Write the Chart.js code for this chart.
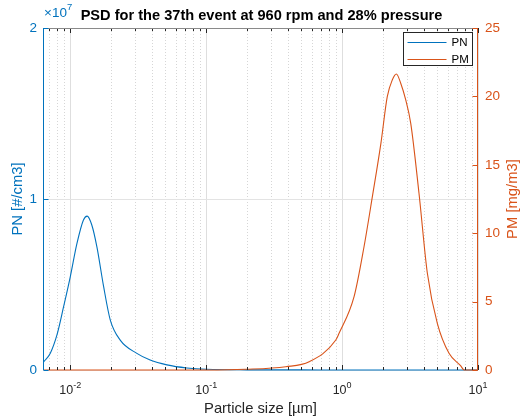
<!DOCTYPE html>
<html><head><meta charset="utf-8">
<script src="https://cdn.jsdelivr.net/npm/chart.js@4/dist/chart.umd.min.js"></script>
<style>html,body{margin:0;padding:0;background:#fff}#wrap{width:521px;height:416px}</style>
</head><body><div id="wrap"><canvas id="c" width="521" height="416"></canvas></div>
<script>
const titleText = 'PSD for the 37th event at 960 rpm and 28% pressure';
const xLabel = 'Particle size [µm]';
const yLeftLabel = 'PN [#/cm3]';
const yRightLabel = 'PM [mg/m3]';
const seriesNames = ['PN', 'PM'];

// PN: particle number concentration [#/cm3]
const pnSize = [0.00637, 0.00713, 0.00798, 0.00893, 0.0100, 0.0112, 0.0125, 0.0133, 0.0144, 0.0157, 0.0176, 0.0197, 0.0233, 0.0309, 0.0387, 0.0514, 0.0721, 0.101, 0.2, 0.5, 1, 3, 10];
const pnValues = [0.048e7, 0.098e7, 0.205e7, 0.37e7, 0.545e7, 0.74e7, 0.877e7, 0.90e7, 0.848e7, 0.72e7, 0.487e7, 0.292e7, 0.175e7, 0.097e7, 0.058e7, 0.03e7, 0.012e7, 0.004e7, 0.001e7, 0.0005e7, 0.0003e7, 0.0001e7, 0];

// PM: particle mass concentration [mg/m3]
const pmSize = [0.0064, 0.0995, 0.196, 0.385, 0.572, 0.899, 0.95, 1.225, 1.45, 1.67, 1.93, 2.15, 2.34, 2.51, 2.70, 2.94, 3.20, 3.68, 4.24, 5.02, 6.12, 7.47, 7.9, 10];
const pmValues = [0, 0, 0.05, 0.24, 0.6, 2.19, 2.68, 5.36, 9.01, 12.67, 16.57, 19.98, 21.2, 21.64, 20.96, 19.74, 18.03, 12.92, 7.07, 3.41, 1.22, 0.3, 0, 0];

const xDecades = [0.01, 0.1, 1, 10];
const xDecadeExp = ['-2', '-1', '0', '1'];
const yLeftTicks = [0, 1e7, 2e7];
const yLeftTickLabels = ['0', '1', '2'];
const yLeftExponent = '7';
const yRightTicks = [0, 5, 10, 15, 20, 25];

const BLUE = '#0072BD';
const ORANGE = '#D95319';
const AXIS = '#262626';
const FONT = "'Liberation Sans', Arial, Helvetica, sans-serif";

const deco = {
  id: 'deco',
  beforeDatasetsDraw(chart) {
    const {ctx, chartArea: a, scales} = chart;
    const xs = scales.x, yl = scales.y;
    ctx.save();
    for (let e = -3; e <= 1; e++) {
      for (let m = 1; m <= 9; m++) {
        const v = m * Math.pow(10, e);
        if (v < xs.min || v > xs.max) continue;
        const px = Math.round(xs.getPixelForValue(v)) + 0.5;
        ctx.beginPath();
        if (m === 1) { ctx.setLineDash([]); ctx.strokeStyle = '#dedede'; }
        else { ctx.setLineDash([1, 2]); ctx.strokeStyle = '#d6d6d6'; }
        ctx.lineWidth = 1;
        ctx.moveTo(px, a.top); ctx.lineTo(px, a.bottom); ctx.stroke();
      }
    }
    ctx.setLineDash([]);
    ctx.strokeStyle = '#e3e3e3';
    yLeftTicks.forEach(v => {
      const py = Math.round(yl.getPixelForValue(v)) + 0.5;
      ctx.beginPath(); ctx.moveTo(a.left, py); ctx.lineTo(a.right, py); ctx.stroke();
    });
    ctx.restore();
  },
  afterDatasetsDraw(chart) {
    const {ctx, chartArea: a, scales} = chart;
    const xs = scales.x, yl = scales.y, yr = scales.y1;
    ctx.save();
    ctx.lineWidth = 1;
    ctx.strokeStyle = AXIS;
    for (let e = -3; e <= 1; e++) {
      for (let m = 1; m <= 9; m++) {
        const v = m * Math.pow(10, e);
        if (v < xs.min || v > xs.max) continue;
        const px = Math.round(xs.getPixelForValue(v)) + 0.5;
        const len = m === 1 ? 5 : 3;
        ctx.beginPath();
        ctx.moveTo(px, a.bottom); ctx.lineTo(px, a.bottom - len);
        ctx.moveTo(px, a.top); ctx.lineTo(px, a.top + len);
        ctx.stroke();
      }
    }
    ctx.strokeStyle = '#8a8a8a';
    ctx.beginPath(); ctx.moveTo(a.left, a.top + 0.5); ctx.lineTo(a.right, a.top + 0.5); ctx.stroke();
    ctx.strokeStyle = BLUE;
    const lx = Math.round(a.left) + 0.5;
    ctx.beginPath(); ctx.moveTo(lx, a.top); ctx.lineTo(lx, a.bottom); ctx.stroke();
    yLeftTicks.forEach(v => {
      const py = Math.round(yl.getPixelForValue(v)) + 0.5;
      ctx.beginPath(); ctx.moveTo(lx, py); ctx.lineTo(lx + 5, py); ctx.stroke();
    });
    ctx.strokeStyle = ORANGE;
    const rx = Math.round(a.right) - 0.5;
    ctx.beginPath(); ctx.moveTo(rx, a.top); ctx.lineTo(rx, a.bottom); ctx.stroke();
    yRightTicks.forEach(v => {
      const py = Math.round(yr.getPixelForValue(v)) + 0.5;
      ctx.beginPath(); ctx.moveTo(rx, py); ctx.lineTo(rx - 5, py); ctx.stroke();
    });
    const lw = 69, lh = 33;
    const bx = Math.round(a.right - 6 - lw) + 0.5, by = Math.round(a.top + 4) + 0.5;
    ctx.fillStyle = '#fff';
    ctx.fillRect(bx, by, lw, lh);
    ctx.strokeStyle = AXIS;
    ctx.strokeRect(bx, by, lw, lh);
    [BLUE, ORANGE].forEach((c, i) => {
      const ly = by + 10 + i * 17;
      ctx.strokeStyle = c;
      ctx.beginPath(); ctx.moveTo(bx + 4, ly); ctx.lineTo(bx + 43, ly); ctx.stroke();
      ctx.fillStyle = '#000';
      ctx.font = '11.5px ' + FONT;
      ctx.textAlign = 'left'; ctx.textBaseline = 'middle';
      ctx.fillText(seriesNames[i], bx + 48, ly + 0.5);
    });
    ctx.restore();
  },
  afterDraw(chart) {
    const {ctx, chartArea: a, scales} = chart;
    const xs = scales.x;
    ctx.save();
    ctx.fillStyle = '#000';
    ctx.font = 'bold 14.6px ' + FONT;
    ctx.textAlign = 'center'; ctx.textBaseline = 'alphabetic';
    ctx.fillText(titleText, (a.left + a.right) / 2 + 1, 20);
    ctx.fillStyle = AXIS;
    xDecades.forEach((v, i) => {
      const px = xs.getPixelForValue(v);
      ctx.font = '12.5px ' + FONT;
      const w1 = ctx.measureText('10').width;
      ctx.font = '9px ' + FONT;
      const w2 = ctx.measureText(xDecadeExp[i]).width;
      const x0 = px - (w1 + w2) / 2;
      ctx.textAlign = 'left'; ctx.textBaseline = 'alphabetic';
      ctx.font = '12.5px ' + FONT;
      ctx.fillText('10', x0, a.bottom + 24);
      ctx.font = '9px ' + FONT;
      ctx.fillText(xDecadeExp[i], x0 + w1, a.bottom + 18);
    });
    ctx.font = '14.8px ' + FONT;
    ctx.textAlign = 'center';
    ctx.fillText(xLabel, (a.left + a.right) / 2, a.bottom + 43);
    ctx.fillStyle = BLUE;
    ctx.textAlign = 'left';
    ctx.font = '13.5px ' + FONT;
    const wx = ctx.measureText('×10').width;
    ctx.fillText('×10', a.left + 1, a.top - 11);
    ctx.font = '9.5px ' + FONT;
    ctx.fillText(yLeftExponent, a.left + 1 + wx, a.top - 18);
    ctx.font = '14.8px ' + FONT;
    ctx.textAlign = 'center'; ctx.textBaseline = 'middle';
    ctx.save();
    ctx.translate(18, (a.top + a.bottom) / 2);
    ctx.rotate(-Math.PI / 2);
    ctx.fillStyle = BLUE;
    ctx.fillText(yLeftLabel, 0, 0);
    ctx.restore();
    ctx.save();
    ctx.translate(513, (a.top + a.bottom) / 2);
    ctx.rotate(-Math.PI / 2);
    ctx.fillStyle = ORANGE;
    ctx.fillText(yRightLabel, 0, 0);
    ctx.restore();
    ctx.restore();
  }
};

new Chart(document.getElementById('c'), {
  type: 'line',
  data: {
    datasets: [
      {label: seriesNames[0], data: pnSize.map((x, i) => ({x, y: pnValues[i]})), borderColor: BLUE, borderWidth: 1.1, pointRadius: 0, fill: false, yAxisID: 'y', cubicInterpolationMode: 'monotone', clip: 3, order: 2},
      {label: seriesNames[1], data: pmSize.map((x, i) => ({x, y: pmValues[i]})), borderColor: ORANGE, borderWidth: 1.1, pointRadius: 0, fill: false, yAxisID: 'y1', cubicInterpolationMode: 'monotone', clip: 3, order: 1}
    ]
  },
  options: {
    responsive: false, animation: false, devicePixelRatio: 1,
    layout: {padding: {top: 28, left: 0, right: 0, bottom: 0}},
    plugins: {legend: {display: false}, tooltip: {enabled: false}, title: {display: false}},
    scales: {
      x: {type: 'logarithmic', min: 0.0063, max: 10, grid: {display: false, drawTicks: false}, border: {display: false}, ticks: {display: false},
          afterFit(s) { s.height = 46; }},
      y: {position: 'left', min: 0, max: 2e7, grid: {display: false, drawTicks: false}, border: {display: false},
          afterBuildTicks(s) { s.ticks = yLeftTicks.map(v => ({value: v})); },
          ticks: {color: BLUE, padding: 6, font: {family: FONT, size: 13.5}, callback: (v, i) => yLeftTickLabels[i]},
          afterFit(s) { s.width = 43; }},
      y1: {position: 'right', min: 0, max: 25, grid: {display: false, drawTicks: false}, border: {display: false},
          afterBuildTicks(s) { s.ticks = yRightTicks.map(v => ({value: v})); },
          ticks: {color: ORANGE, padding: 7, font: {family: FONT, size: 13.5}, callback: v => String(v)},
          afterFit(s) { s.width = 43; }}
    }
  },
  plugins: [deco]
});
</script></body></html>
